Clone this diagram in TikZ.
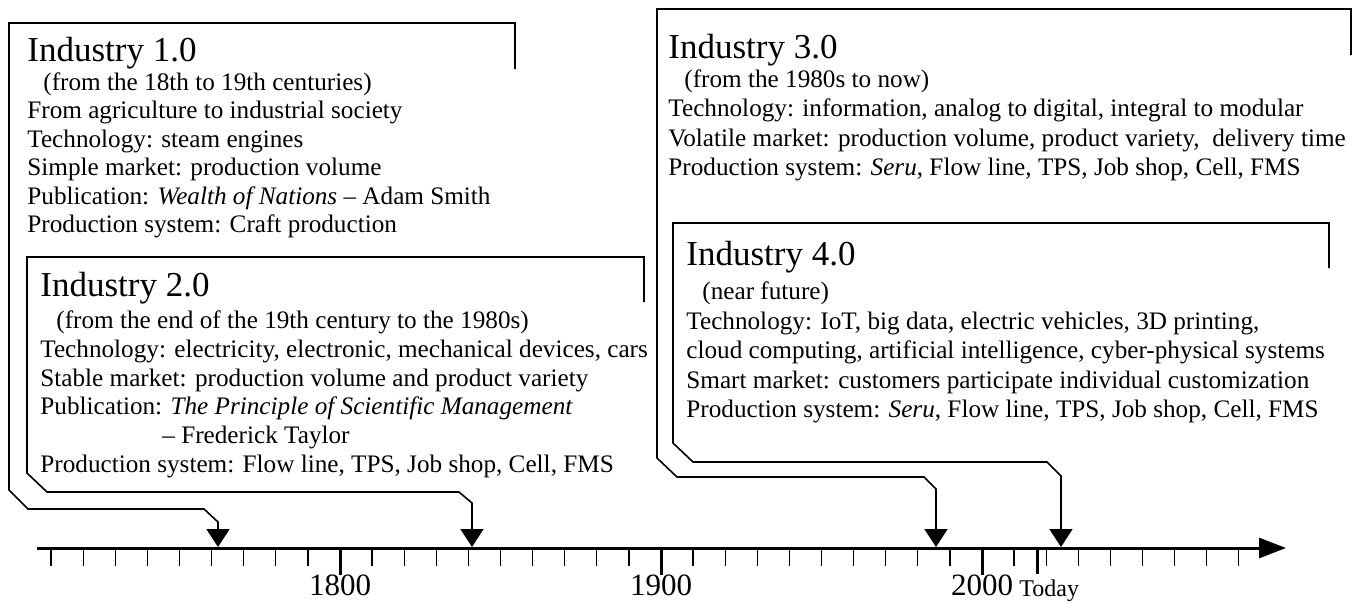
\documentclass[tikz,border=0pt]{standalone}
\usepackage{fontspec}
\setmainfont{Liberation Serif}
\usetikzlibrary{arrows.meta, positioning}

\begin{document}
\begin{tikzpicture}[x=0.5pt, y=-0.5pt,
  frame/.style={draw=black!80, line width=0.8pt, line join=miter},
  pointer/.style={frame, draw=black, -{Triangle[length=9pt, width=11.5pt]}},
  head/.style={font=\fontsize{17.5}{19}\selectfont, anchor=base west, inner sep=0pt},
  body/.style={font=\fontsize{12.6}{14.2}\selectfont, align=left, anchor=north west, inner sep=0pt},
  axis/.style={line width=1.5pt, -{Triangle[length=13.5pt, width=10pt]}},
  minor/.style={line width=0.65pt},
  major/.style={line width=1.5pt},
  year/.style={font=\fontsize{15.5}{16}\selectfont, anchor=base, inner sep=0pt}
]
\useasboundingbox (0,0) rectangle (1370,602);

% Timeline
\coordinate (start) at (37,548);
\coordinate (end)   at (1286,548);
\draw[axis] (start) -- (end);
\foreach \yr in {1710,1720,...,2080}
  \draw[minor] ({340+(\yr-1800)*3.21},548) -- ++(0,18);
\foreach \yr in {1800,1900,2000} {
  \draw[major] ({340+(\yr-1800)*3.21},548) -- ++(0,27);
  \node[year] (lab\yr) at ({340+(\yr-1800)*3.21},595) {\yr};
}
\draw[major] (1037,548) -- ++(0,26);
\node[font=\fontsize{12}{12}\selectfont, anchor=base west, inner sep=0pt] (today) at (1019,596) {Today};

% Arrow targets on the timeline
\coordinate (p1) at (218,547);
\coordinate (p2) at (472,547);
\coordinate (p3) at (936,547);
\coordinate (p4) at (1061,547);

% Industry 1.0
\node[head] (head1) at (27,61) {Industry 1.0};
\node[body] (text1) at (head1.base west) {\rule{0pt}{14.5pt}\hspace*{8pt}(from the 18th to 19th centuries)\\
  From agriculture to industrial society\\
  Technology: steam engines\\
  Simple market: production volume\\
  Publication: \textit{Wealth of Nations} -- Adam Smith\\
  Production system: Craft production};
\draw[pointer] (515,69) |- (9,23) -- (9,490) -- (28,509) -- (204,509) -- (218,522) -- (p1);

% Industry 2.0
\node[head] (head2) at (40,296) {Industry 2.0};
\node[body, font=\fontsize{12.6}{14.4}\selectfont] (text2) at (head2.base west) {\rule{0pt}{16pt}\hspace*{8pt}(from the end of the 19th century to the 1980s)\\
  Technology: electricity, electronic, mechanical devices, cars\\
  Stable market: production volume and product variety\\
  Publication: \textit{The Principle of Scientific Management}\\
  \hspace*{61pt}-- Frederick Taylor\\
  Production system: Flow line, TPS, Job shop, Cell, FMS};
\draw[pointer] (644,302) |- (27,257) -- (27,473) -- (47,492) -- (459,492) -- (472,503) -- (p2);

% Industry 3.0
\node[head] (head3) at (668,58) {Industry 3.0};
\node[body, font=\fontsize{12.6}{14.75}\selectfont] (text3) at (head3.base west) {\rule{0pt}{14.5pt}\hspace*{8pt}(from the 1980s to now)\\
  Technology: information, analog to digital, integral to modular\\
  Volatile market: production volume, product variety, \ delivery time\\
  Production system: \textit{Seru}, Flow line, TPS, Job shop, Cell, FMS};
\draw[pointer] (1351,55) |- (657,9) -- (657,458) -- (677,477) -- (924,477) -- (936,489) -- (p3);

% Industry 4.0
\node[head] (head4) at (686,265) {Industry 4.0};
\node[body, font=\fontsize{12.6}{14.8}\selectfont] (text4) at (head4.base west) {\rule{0pt}{17pt}\hspace*{8pt}(near future)\\
  Technology: IoT, big data, electric vehicles, 3D printing,\\
  cloud computing, artificial intelligence, cyber-physical systems\\
  Smart market: customers participate individual customization\\
  Production system: \textit{Seru}, Flow line, TPS, Job shop, Cell, FMS};
\draw[pointer] (1329,268) |- (673,223) -- (673,443) -- (693,462) -- (1047,462) -- (1061,476) -- (p4);

\end{tikzpicture}
\end{document}
